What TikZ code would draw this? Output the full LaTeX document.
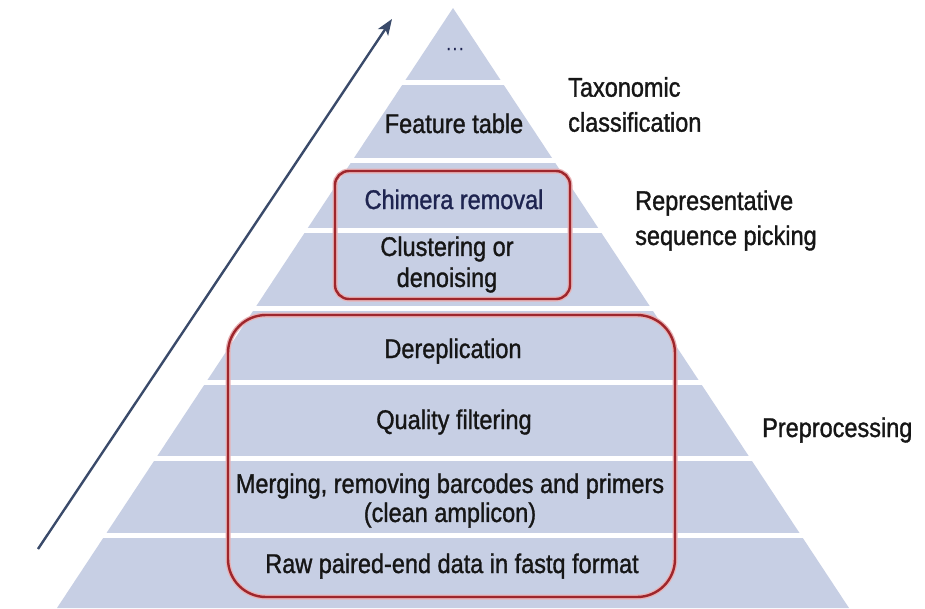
\documentclass[tikz,border=0pt]{standalone}
\usepackage{fontspec}
\setmainfont{Liberation Sans}[FakeStretch=0.87,FakeBold=1.2]
\usetikzlibrary{arrows.meta}
\definecolor{pyrfill}{RGB}{199,207,228}
\definecolor{framered}{RGB}{158,38,44}
\definecolor{framehalo}{RGB}{232,178,182}
\definecolor{arrowblue}{RGB}{58,74,106}
\definecolor{inktext}{RGB}{22,22,22}
\definecolor{navytext}{RGB}{30,36,80}

\begin{document}
\begin{tikzpicture}[x=1pt,y=-1pt,
  steptext/.style={inner sep=0pt, text=inktext, font=\fontsize{27}{35}\selectfont, align=center},
  sidetext/.style={inner sep=0pt, text=inktext, font=\fontsize{27}{35}\selectfont, align=left},
  bandgap/.style={white, line width=5pt},
  framehaloline/.style={framehalo, line width=5pt},
  frameline/.style={framered, line width=2.4pt},
  trendarrow/.style={arrowblue, line width=2.4pt, -{Stealth[length=16pt,width=12pt,inset=4pt]}}
]
\useasboundingbox (0,0) rectangle (925,608);
\fill[white] (0,0) rectangle (925,608);

% pyramid body and the white gaps between its layers
\fill[pyrfill] (453,8) -- (849,608) -- (57,608) -- cycle;
\foreach \gy in {82.5,160.5,230.5,308,382.5,458.5,535.5}
  \draw[bandgap] (40,\gy) -- (880,\gy);

% group frames
\draw[framehaloline, rounded corners=14pt] (335,171) rectangle (570,299);
\draw[frameline, rounded corners=14pt] (335,171) rectangle (570,299);
\draw[framehaloline, rounded corners=38pt] (228,315) rectangle (675,597);
\draw[frameline, rounded corners=38pt] (228,315) rectangle (675,597);

% layer labels
\node[inner sep=0pt, text=navytext, font=\fontsize{18}{20}\selectfont, anchor=base] (top) at (455,50) {.\kern2pt.\kern2pt.};
\node[steptext, anchor=base] (feature) at (454,133) {Feature table};
\node[steptext, anchor=base, text=navytext] (chimera) at (454,209) {Chimera removal};
\node[steptext, font=\fontsize{27}{31}\selectfont] (cluster) at (447,264.5) {Clustering or\\denoising};
\node[steptext, anchor=base] (derep) at (453,358) {Dereplication};
\node[steptext, anchor=base] (quality) at (454,429) {Quality filtering};
\node[steptext, font=\fontsize{27}{29}\selectfont] (merge) at (450,500.5) {Merging, removing barcodes and primers\\(clean amplicon)};
\node[steptext, anchor=base] (raw) at (452,573) {Raw paired-end data in fastq format};

% stage labels on the right
\node[sidetext, anchor=west] (taxo) at (568,104.5) {Taxonomic\\classification};
\node[sidetext, anchor=west] (repr) at (635,220.5) {Representative\\sequence picking};
\node[sidetext, anchor=base west] (prep) at (762,437) {Preprocessing};

% upward trend arrow
\coordinate (trendstart) at (38,549);
\coordinate (trendend) at (392,19);
\draw[trendarrow] (trendstart) -- (trendend);
\end{tikzpicture}
\end{document}
